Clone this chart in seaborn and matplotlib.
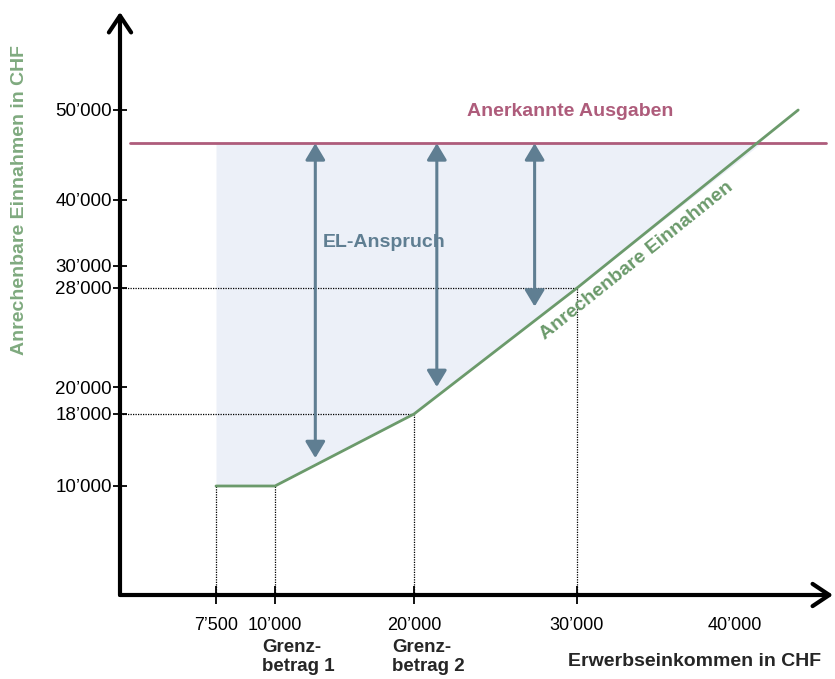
import numpy as np
import pandas as pd
import matplotlib
matplotlib.use("Agg")
import matplotlib.pyplot as plt
import seaborn as sns

# --- values ---------------------------------------------------------------
einkommen = [7500, 10000, 20000, 30000, 44000]      # Erwerbseinkommen (CHF)
einnahmen = [10000, 10000, 18000, 28000, 50000]     # anrechenbare Einnahmen (CHF)
ausgaben = 46300                                    # anerkannte Ausgaben (CHF)

x_ticks = [7500, 10000, 20000, 30000, 40000]
x_labels = ["7’500", "10’000", "20’000", "30’000", "40’000"]
y_ticks = [10000, 18000, 20000, 28000, 30000, 40000, 50000]
y_labels = ["10’000", "18’000", "20’000", "28’000", "30’000", "40’000", "50’000"]

anspruch_x = [12900, 21400, 27400]                  # where the EL-Anspruch arrows sit
anspruch_unten = [13100, 20000, 26500]

grenz_x = [10000, 20000]
grenz_labels = ["Grenz-\nbetrag 1", "Grenz-\nbetrag 2"]

guide_x = [7500, 10000, 20000, 30000]
guide_y = [18000, 28000]

# --- colours ----------------------------------------------------------------
GREEN = "#6B9A6B"
GREEN_LABEL = "#7FAA7F"
ROSE = "#AE5C7B"
STEEL = "#5F7E92"
FILL = "#ECF0F8"

sns.set_theme(style="white")
plt.rcParams["font.family"] = ["Liberation Sans", "DejaVu Sans"]


def piecewise(src, dst):
    """Piecewise-linear map with linear extrapolation at both ends."""
    src = np.asarray(src, float)
    dst = np.asarray(dst, float)

    def f(v):
        v = np.asarray(v, float)
        out = np.interp(v, src, dst)
        lo_slope = (dst[1] - dst[0]) / (src[1] - src[0])
        hi_slope = (dst[-1] - dst[-2]) / (src[-1] - src[-2])
        out = np.where(v < src[0], dst[0] + (v - src[0]) * lo_slope, out)
        out = np.where(v > src[-1], dst[-1] + (v - src[-1]) * hi_slope, out)
        return out
    return f


# schematic (non-proportional) axis spacing
sx_val = [0, 7500, 10000, 20000, 30000, 40000, 50000]
sx_pos = [0, 96, 155, 294, 457, 615, 773]
sy_val = [0, 10000, 18000, 20000, 28000, 30000, 40000, 50000]
sy_pos = [0, 109, 181, 208, 307, 329, 395, 485]
fx, ix = piecewise(sx_val, sx_pos), piecewise(sx_pos, sx_val)
fy, iy = piecewise(sy_val, sy_pos), piecewise(sy_pos, sy_val)

W, H = 835, 679
fig = plt.figure(figsize=(W / 100, H / 100), dpi=100)
x0, x1, yb, yt = 120, 833, 595, 12
ax = fig.add_axes([x0 / W, (H - yb) / H, (x1 - x0) / W, (yb - yt) / H])
ax.set_xscale("function", functions=(fx, ix))
ax.set_yscale("function", functions=(fy, iy))
ax.set_xlim(0, float(ix(x1 - x0)))
ax.set_ylim(0, float(iy(yb - yt)))
for s in ax.spines.values():
    s.set_visible(False)
ax.patch.set_alpha(0)

# shaded EL-Anspruch area between income line and recognised expenses
ax.fill_between(einkommen, einnahmen, ausgaben,
                where=np.array(einnahmen) <= ausgaben, interpolate=True,
                color=FILL, lw=0, zorder=0)

# dotted guides
guide_top = np.interp(guide_x, einkommen, einnahmen)
for gx, gt in zip(guide_x, guide_top):
    ax.plot([gx, gx], [0, gt], color="black", lw=0.9, ls=(0, (1, 1)), zorder=1)
guide_right = np.interp(guide_y, einnahmen[1:], einkommen[1:])
for gy, gr in zip(guide_y, guide_right):
    ax.plot([0, gr], [gy, gy], color="black", lw=0.9, ls=(0, (1, 1)), zorder=1)

# recognised expenses
ax.axhline(ausgaben, xmin=10 / (x1 - x0), xmax=706 / (x1 - x0), color=ROSE, lw=2, zorder=2)

# countable income line
df = pd.DataFrame({"Erwerbseinkommen": einkommen, "Einnahmen": einnahmen})
sns.lineplot(data=df, x="Erwerbseinkommen", y="Einnahmen", ax=ax, color=GREEN,
             lw=2, sort=False, estimator=None, zorder=3)
ax.set_xlabel("")
ax.set_ylabel("")

# EL-Anspruch arrows
for ax_x, lo in zip(anspruch_x, anspruch_unten):
    ax.annotate("", xy=(ax_x, lo), xytext=(ax_x, ausgaben),
                arrowprops=dict(arrowstyle="<|-|>,head_length=0.5,head_width=0.3",
                                lw=2.2, color=STEEL, shrinkA=0, shrinkB=0,
                                mutation_scale=20), zorder=4)

# axes with arrow heads
arrow_kw = dict(arrowstyle="->,head_length=0.6,head_width=0.4", lw=3,
                color="black", shrinkA=0, shrinkB=0, mutation_scale=20)
ax.annotate("", xy=(1, 0), xytext=(0, 0), xycoords="axes fraction",
            arrowprops=arrow_kw, annotation_clip=False)
ax.annotate("", xy=(0, 1), xytext=(0, 0), xycoords="axes fraction",
            arrowprops=arrow_kw, annotation_clip=False)

# ticks
ax.set_xticks(x_ticks)
ax.set_xticklabels(x_labels)
ax.set_yticks(y_ticks)
ax.set_yticklabels(y_labels)
ax.minorticks_off()
ax.tick_params(axis="x", bottom=True, direction="inout", length=13, width=1.3,
               color="black", labelsize=13, pad=9, labelcolor="black")
ax.tick_params(axis="y", left=True, direction="inout", length=10, width=1.3,
               color="black", labelsize=13.5, pad=1, labelcolor="black")
ax.xaxis.get_major_ticks()[-1].tick1line.set_visible(False)

# texts
ax.text(29600, 49800, "Anerkannte Ausgaben", color=ROSE, fontsize=14,
        fontweight="bold", ha="center", va="center")
ax.text(13400, 33500, "EL-Anspruch", color=STEEL, fontsize=14,
        fontweight="bold", ha="left", va="center")
ax.text(33750, 30800, "Anrechenbare Einnahmen", color=GREEN, fontsize=14,
        fontweight="bold", ha="center", va="center", rotation=38.7,
        rotation_mode="anchor")

for gx, lab, dx in zip(grenz_x, grenz_labels, [-13, -22]):
    ax.annotate(lab, xy=(gx, 0), xycoords=("data", "axes fraction"),
                xytext=(dx, -44), textcoords="offset pixels", ha="left", va="top",
                fontsize=13.5, fontweight="bold", linespacing=1.15,
                annotation_clip=False)

fig.text(695 / W, 1 - 662 / H, "Erwerbseinkommen in CHF", fontsize=14,
         fontweight="bold", ha="center", va="center")
fig.text(20 / W, 1 - 200 / H, "Anrechenbare Einnahmen in CHF", fontsize=14,
         fontweight="bold", color=GREEN_LABEL, rotation=90, ha="center", va="center")

fig.savefig("out.png", dpi=100)
